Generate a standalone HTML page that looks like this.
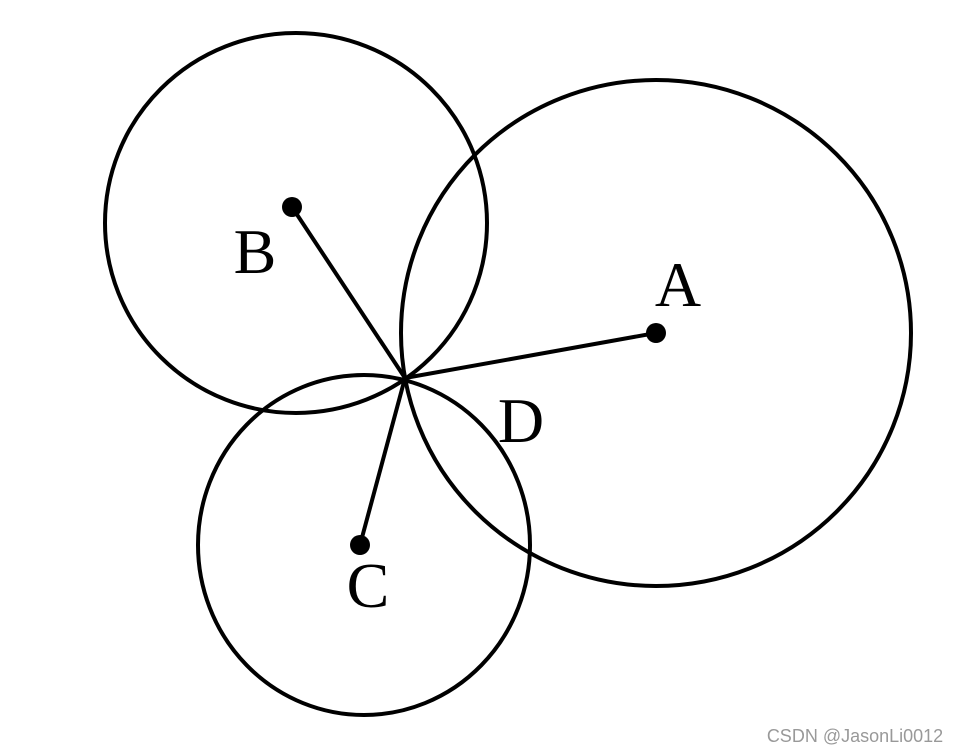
<!DOCTYPE html>
<html><head><style>
html,body{margin:0;padding:0;background:#fff;}
</style></head><body>
<svg width="960" height="754" xmlns="http://www.w3.org/2000/svg" style="display:block">
<g fill="none" stroke="#000" stroke-width="4">
<ellipse cx="656" cy="333" rx="255" ry="253"/>
<ellipse cx="296" cy="223" rx="191" ry="190"/>
<ellipse cx="364" cy="545" rx="166" ry="170"/>
<line x1="405" y1="378" x2="656" y2="333"/>
<line x1="405" y1="378" x2="292" y2="207"/>
<line x1="405" y1="378" x2="360" y2="545"/>
</g>
<g fill="#000">
<circle cx="656" cy="333" r="10"/>
<circle cx="292" cy="207" r="10"/>
<circle cx="360" cy="545" r="10"/>
</g>
<g font-family="Liberation Serif, serif" font-size="64" fill="#000" text-anchor="middle">
<text x="255" y="273">B</text>
<text x="678" y="306">A</text>
<text x="521" y="442">D</text>
<text x="368" y="607">C</text>
</g>
<text x="855" y="742" font-family="Liberation Sans, sans-serif" font-size="18" fill="#999" text-anchor="middle">CSDN @JasonLi0012</text>
</svg>
</body></html>
